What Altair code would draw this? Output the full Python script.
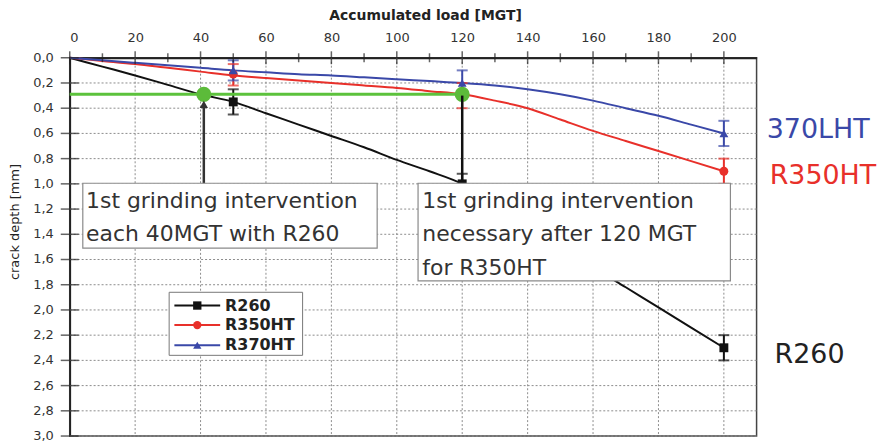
import altair as alt
import pandas as pd

# ---------------- data ----------------
series = ["R260", "R350HT", "R370HT"]
colors = ["#111111", "#e8302a", "#3a48a8"]
shapes = ["square", "circle", "triangle-up"]

# fitted curves, load in MGT
curve_load = [0, 10, 20, 30, 40, 50, 60, 70, 80, 90, 100, 110, 120, 130, 140, 150, 160, 170, 180, 190, 200]
curve_r260 = [0.0, 0.07, 0.14, 0.215, 0.29, 0.35, 0.44, 0.53, 0.62, 0.71, 0.81, 0.90, 1.00, 1.16, 1.33, 1.49, 1.66, 1.82, 1.98, 2.14, 2.30]
curve_r350 = [0.0, 0.025, 0.05, 0.08, 0.11, 0.14, 0.16, 0.18, 0.20, 0.22, 0.24, 0.265, 0.29, 0.34, 0.40, 0.49, 0.58, 0.66, 0.74, 0.82, 0.90]
curve_r370 = [0.0, 0.02, 0.04, 0.06, 0.08, 0.10, 0.115, 0.13, 0.14, 0.155, 0.17, 0.185, 0.20, 0.22, 0.25, 0.29, 0.34, 0.40, 0.46, 0.53, 0.60]

# measured points with error bars
pt_load = [50, 120, 200]
r260_val = [0.35, 1.00, 2.30]
r260_lo = [0.25, 0.92, 2.20]
r260_hi = [0.45, 1.08, 2.40]
r350_val = [0.13, 0.30, 0.90]
r350_lo = [0.05, 0.20, 0.80]
r350_hi = [0.22, 0.40, 1.00]
r370_val = [0.10, 0.20, 0.60]
r370_lo = [0.02, 0.10, 0.50]
r370_hi = [0.18, 0.30, 0.70]

# grinding threshold
grind_depth = 0.29
grind_loads = [41, 120]

# axis ticks and labels
x_major = list(range(0, 201, 20))
x_minor = list(range(10, 201, 20))
y_major = [round(v * 0.2, 1) for v in range(0, 16)]
y_labels = ["0,0", "0,2", "0,4", "0,6", "0,8", "1,0", "1,2", "1,4",
            "1,6", "1,8", "2,0", "2,2", "2,4", "2,6", "2,8", "3,0"]
x_title = "Accumulated load [MGT]"
y_title = "crack depth [mm]"

# annotation boxes
box_x = [4, 106.5]
box_x2 = [94, 202]
box_y = [0.995, 0.995]
box_y2 = [1.51, 1.77]
box_text = ["1st grinding intervention", "each 40MGT with R260",
            "1st grinding intervention", "necessary after 120 MGT", "for R350HT"]
box_text_x = [5, 5, 107.8, 107.8, 107.8]
box_text_y = [1.137, 1.397, 1.137, 1.397, 1.666]

# arrows
arrow1_x = 41
arrow1_from = 1.0
arrow1_to = 0.37
arrow2_x = 120
arrow2_from = 0.30
arrow2_to = 1.0

# legend (drawn inside plot)
leg_box = [30.4, 71.2, 1.86, 2.36]
leg_rows = [1.965, 2.12, 2.28]
leg_line = [32, 46]
leg_marker_x = 39
leg_text_x = 47.5

# right-side labels
side_text = ["370LHT", "R350HT", "R260"]
side_x = [213.1, 214.0, 215.5]
side_y = [0.572, 0.94, 2.36]
side_color = ["#3a48a8", "#e8302a", "#222222"]

# ---------------- build ----------------
FONT = "DejaVu Sans"
xscale = alt.Scale(domain=[0, 210], nice=False, zero=False)
yscale = alt.Scale(domain=[0, 3.0], reverse=True, nice=False)
cscale = alt.Scale(domain=series, range=colors)
sscale = alt.Scale(domain=series, range=shapes)

xaxis = alt.Axis(orient="top", values=x_major, title=x_title,
                 titleFontWeight="bold", titleFontSize=14, titleX=357, titleY=-42,
                 titleBaseline="middle", labelPadding=13, grid=False, labelOverlap=False)
yaxis = alt.Axis(values=y_major, title=None, labels=False, grid=False)

X = alt.X("x:Q", scale=xscale, axis=xaxis)
Y = alt.Y("y:Q", scale=yscale, axis=yaxis)
Xn = alt.X("x:Q", scale=xscale)
Yn = alt.Y("y:Q", scale=yscale)

curves = pd.DataFrame(
    [{"x": l, "y": v, "s": "R260"} for l, v in zip(curve_load, curve_r260)]
    + [{"x": l, "y": v, "s": "R350HT"} for l, v in zip(curve_load, curve_r350)]
    + [{"x": l, "y": v, "s": "R370HT"} for l, v in zip(curve_load, curve_r370)]
)
pts_rows = []
for name, vals, lo, hi in [("R260", r260_val, r260_lo, r260_hi),
                           ("R350HT", r350_val, r350_lo, r350_hi),
                           ("R370HT", r370_val, r370_lo, r370_hi)]:
    for l, v, a, b in zip(pt_load, vals, lo, hi):
        pts_rows.append({"x": l, "y": v, "lo": a, "hi": b, "s": name})
pts = pd.DataFrame(pts_rows)

GRID = dict(color="#8c8c8c", strokeWidth=1, strokeDash=[2, 2])
xgrid = alt.Chart(pd.DataFrame({"x": x_major[1:]})).mark_rule(**GRID).encode(x=X)
ygrid = alt.Chart(pd.DataFrame({"y": y_major[1:]})).mark_rule(**GRID).encode(y=Y)
ylab = alt.Chart(pd.DataFrame({"y": y_major, "t": y_labels})).mark_text(
    align="right", baseline="middle", font=FONT, fontSize=13, color="#333333").encode(
    x=alt.value(-16), y=Yn, text="t:N")
ytitle = alt.Chart(pd.DataFrame({"t": [y_title]})).mark_text(
    angle=270, align="center", baseline="middle", font=FONT, fontSize=13,
    color="#222222").encode(x=alt.value(-55), y=alt.value(165), text="t:N")

line_layer = alt.Chart(curves).mark_line(strokeWidth=2, interpolate="monotone").encode(
    x=Xn, y=Yn, color=alt.Color("s:N", scale=cscale, legend=None), detail="s:N")

err_layer = alt.Chart(pts).mark_rule(strokeWidth=2).encode(
    x=Xn, y=alt.Y("lo:Q", scale=yscale), y2="hi:Q",
    color=alt.Color("s:N", scale=cscale, legend=None))
cap_lo = alt.Chart(pts).mark_tick(orient="horizontal", size=11, thickness=2).encode(
    x=Xn, y=alt.Y("lo:Q", scale=yscale), color=alt.Color("s:N", scale=cscale, legend=None))
cap_hi = alt.Chart(pts).mark_tick(orient="horizontal", size=11, thickness=2).encode(
    x=Xn, y=alt.Y("hi:Q", scale=yscale), color=alt.Color("s:N", scale=cscale, legend=None))
pt_layer = alt.Chart(pts).mark_point(filled=True, size=80, opacity=1).encode(
    x=Xn, y=Yn, color=alt.Color("s:N", scale=cscale, legend=None),
    shape=alt.Shape("s:N", scale=sscale, legend=None))

green_df = pd.DataFrame({"x": [0], "x2": [max(grind_loads)], "y": [grind_depth]})
green_line = alt.Chart(green_df).mark_rule(color="#5cc23c", strokeWidth=3).encode(
    x=Xn, x2="x2:Q", y=Yn)
green_pts = alt.Chart(pd.DataFrame({"x": grind_loads, "y": [grind_depth] * 2})).mark_circle(
    color="#5cbb3a", size=230, opacity=1).encode(x=Xn, y=Yn)

arrows_df = pd.DataFrame({"x": [arrow1_x, arrow2_x], "y": [arrow1_from, arrow2_from],
                          "y2": [arrow1_to, arrow2_to], "c": ["#333333", "#111111"]})
arrows = alt.Chart(arrows_df).mark_rule(strokeWidth=2.5).encode(
    x=Xn, y=Yn, y2="y2:Q", color=alt.Color("c:N", scale=None))
arrow_head = alt.Chart(pd.DataFrame({"x": [arrow1_x], "y": [arrow1_to]})).mark_point(
    shape="triangle-up", filled=True, size=70, color="#333333", opacity=1).encode(x=Xn, y=Yn)

boxes = alt.Chart(pd.DataFrame({"x": box_x, "x2": box_x2, "y": box_y, "y2": box_y2})).mark_rect(
    fill="white", stroke="#8a8a8a", strokeWidth=1.2).encode(x=Xn, x2="x2:Q", y=Yn, y2="y2:Q")
box_texts = alt.Chart(pd.DataFrame({"x": box_text_x, "y": box_text_y, "t": box_text})).mark_text(
    align="left", baseline="middle", font=FONT, fontSize=22, color="#333333").encode(
    x=Xn, y=Yn, text="t:N")

# legend
leg_box_l = alt.Chart(pd.DataFrame({"x": [leg_box[0]], "x2": [leg_box[1]], "y": [leg_box[2]],
                                    "y2": [leg_box[3]]})).mark_rect(
    fill="white", stroke="#777777", strokeWidth=1).encode(x=Xn, x2="x2:Q", y=Yn, y2="y2:Q")
leg_df = pd.DataFrame({"s": series, "y": leg_rows, "x": [leg_line[0]] * 3,
                       "x2": [leg_line[1]] * 3, "xm": [leg_marker_x] * 3, "xt": [leg_text_x] * 3})
leg_lines = alt.Chart(leg_df).mark_rule(strokeWidth=2).encode(
    x=Xn, x2="x2:Q", y=Yn, color=alt.Color("s:N", scale=cscale, legend=None))
leg_marks = alt.Chart(leg_df).mark_point(filled=True, size=70, opacity=1).encode(
    x=alt.X("xm:Q", scale=xscale), y=Yn, color=alt.Color("s:N", scale=cscale, legend=None),
    shape=alt.Shape("s:N", scale=sscale, legend=None))
leg_text = alt.Chart(leg_df).mark_text(align="left", baseline="middle", font=FONT,
                                       fontSize=16, fontWeight="bold", color="#222222").encode(
    x=alt.X("xt:Q", scale=xscale), y=Yn, text="s:N")

side = alt.Chart(pd.DataFrame({"x": side_x, "y": side_y, "t": side_text, "c": side_color})).mark_text(
    align="left", baseline="middle", font=FONT, fontSize=27).encode(
    x=Xn, y=Yn, text="t:N", color=alt.Color("c:N", scale=None))

# axis ticks crossing the axis lines
xt_major = alt.Chart(pd.DataFrame({"x": x_major})).mark_tick(
    orient="vertical", size=13, thickness=1.5, color="#222").encode(x=Xn, y=alt.value(0))
xt_minor = alt.Chart(pd.DataFrame({"x": x_minor})).mark_tick(
    orient="vertical", size=9, thickness=1.5, color="#222").encode(x=Xn, y=alt.value(0))
yt = alt.Chart(pd.DataFrame({"y": y_major})).mark_tick(
    orient="horizontal", size=18, thickness=1.5, color="#222").encode(x=alt.value(0), y=Yn)

chart = alt.layer(
    xgrid, ygrid, ylab, ytitle, line_layer, err_layer, cap_lo, cap_hi, pt_layer,
    green_line, green_pts, arrows, arrow_head, boxes, box_texts,
    leg_box_l, leg_lines, leg_marks, leg_text, side, xt_major, xt_minor, yt
).properties(
    width=690, height=380,
    autosize=alt.AutoSizeParams(type="none"),
    padding={"left": 62, "top": 49, "right": 128, "bottom": 5},
    background="white",
).configure_view(
    stroke="#444444", strokeWidth=1.5
).configure_axis(
    domainColor="#222222", domainWidth=1.8,
    labelFont=FONT, labelFontSize=13, labelColor="#333333",
    ticks=False, tickSize=0, titleFont=FONT, titleColor="#222222"
)

chart.save("out.html", embed_options={"renderer": "svg", "actions": False})
